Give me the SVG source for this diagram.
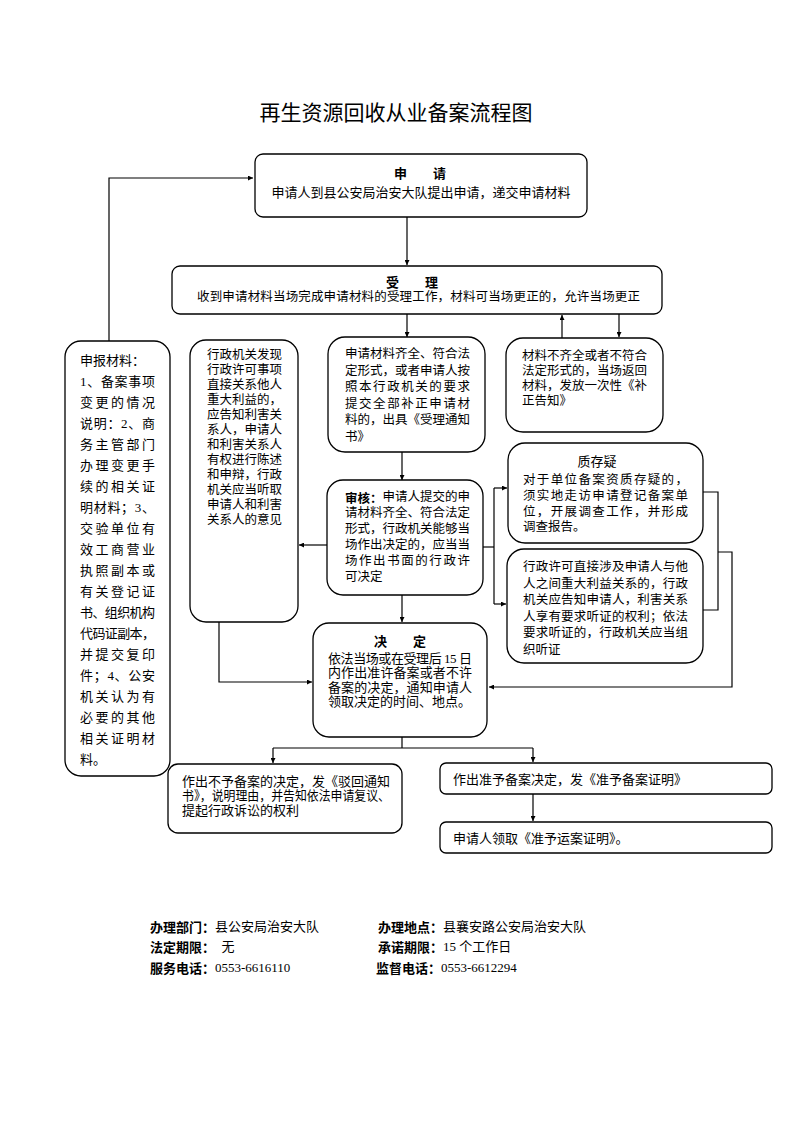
<svg xmlns="http://www.w3.org/2000/svg" width="793" height="1122" viewBox="0 0 793 1122">
<defs>
<marker id="ah" viewBox="0 0 10 10" refX="10" refY="5" markerWidth="6" markerHeight="5" markerUnits="userSpaceOnUse" orient="auto"><path d="M0,0 L10,5 L0,10 z" fill="#000"/></marker>
<style>
.box{fill:#fff;stroke:#000;stroke-width:1.3}
.ln{fill:none;stroke:#000;stroke-width:1.2}
.ar{fill:none;stroke:#000;stroke-width:1.2;marker-end:url(#ah)}
text{font-family:"Liberation Serif","Noto Sans CJK SC",serif;font-size:12.5px;fill:#000;dominant-baseline:central}
.t13{font-size:13px}
.b{font-family:"Noto Sans CJK SC","Liberation Sans",sans-serif;font-weight:bold}
.mid{text-anchor:middle}
.title{font-family:"Noto Sans CJK SC","Liberation Sans",sans-serif;font-size:21px}
</style>
</defs>
<rect width="793" height="1122" fill="#fff"/>
<text class="title mid" x="396" y="111">再生资源回收从业备案流程图</text>

<g id="connectors">
<polyline class="ar" points="109,341 109,178 253,178"/>
<line class="ar" x1="407" y1="217" x2="407" y2="265"/>
<line class="ar" x1="407" y1="314" x2="407" y2="337"/>
<line class="ar" x1="562" y1="338" x2="562" y2="315"/>
<line class="ar" x1="619" y1="314" x2="619" y2="337"/>
<line class="ar" x1="402" y1="452" x2="402" y2="480"/>
<line class="ar" x1="327" y1="545" x2="299" y2="545"/>
<line class="ar" x1="402" y1="595" x2="402" y2="622"/>
<polyline class="ar" points="219,622 219,682 312,682"/>
<line class="ln" x1="483" y1="547" x2="494" y2="547"/>
<line class="ln" x1="494" y1="488" x2="494" y2="604"/>
<line class="ar" x1="494" y1="488" x2="507" y2="488"/>
<line class="ar" x1="494" y1="604" x2="506" y2="604"/>
<polyline class="ln" points="703,492 718,492 718,610 703,610"/>
<polyline class="ar" points="718,552 732,552 732,687 489,687"/>
<line class="ln" x1="402" y1="737" x2="402" y2="748"/>
<line class="ln" x1="273" y1="748" x2="533" y2="748"/>
<line class="ar" x1="273" y1="748" x2="273" y2="763"/>
<line class="ar" x1="533" y1="748" x2="533" y2="762"/>
<line class="ar" x1="533" y1="793" x2="533" y2="821"/>
</g>

<g id="n-apply">
<rect class="box" x="255" y="154" width="332" height="63" rx="8"/>
<text class="b t13 mid" x="420" y="172" xml:space="preserve">申　　请</text>
<text class="t13 mid" x="421" y="192">申请人到县公安局治安大队提出申请，递交申请材料</text>
</g>

<g id="n-accept">
<rect class="box" x="172" y="266" width="490" height="48" rx="8"/>
<text class="b t13 mid" x="412" y="281.5" xml:space="preserve">受　　理</text>
<text x="197" y="297" textLength="443" lengthAdjust="spacing">收到申请材料当场完成申请材料的受理工作，材料可当场更正的，允许当场更正</text>
</g>

<g id="n-materials">
<rect class="box" x="65" y="341" width="105" height="435" rx="16"/>
<text class="t13" x="80" y="360">申报材料：</text>
<text class="t13" x="80" y="381" textLength="75" lengthAdjust="spacing">1、备案事项</text>
<text class="t13" x="80" y="402" textLength="75" lengthAdjust="spacing">变更的情况</text>
<text class="t13" x="80" y="423" textLength="75" lengthAdjust="spacing">说明：2、商</text>
<text class="t13" x="80" y="444" textLength="75" lengthAdjust="spacing">务主管部门</text>
<text class="t13" x="80" y="465" textLength="75" lengthAdjust="spacing">办理变更手</text>
<text class="t13" x="80" y="486" textLength="75" lengthAdjust="spacing">续的相关证</text>
<text class="t13" x="80" y="507" textLength="75" lengthAdjust="spacing">明材料；3、</text>
<text class="t13" x="80" y="528" textLength="75" lengthAdjust="spacing">交验单位有</text>
<text class="t13" x="80" y="549" textLength="75" lengthAdjust="spacing">效工商营业</text>
<text class="t13" x="80" y="570" textLength="75" lengthAdjust="spacing">执照副本或</text>
<text class="t13" x="80" y="591" textLength="75" lengthAdjust="spacing">有关登记证</text>
<text class="t13" x="80" y="612" textLength="75" lengthAdjust="spacing">书、组织机构</text>
<text class="t13" x="80" y="633" textLength="75" lengthAdjust="spacing">代码证副本，</text>
<text class="t13" x="80" y="654" textLength="75" lengthAdjust="spacing">并提交复印</text>
<text class="t13" x="80" y="675" textLength="75" lengthAdjust="spacing">件；4、公安</text>
<text class="t13" x="80" y="696" textLength="75" lengthAdjust="spacing">机关认为有</text>
<text class="t13" x="80" y="717" textLength="75" lengthAdjust="spacing">必要的其他</text>
<text class="t13" x="80" y="738" textLength="75" lengthAdjust="spacing">相关证明材</text>
<text class="t13" x="80" y="759">料。</text>
</g>

<g id="n-hearing-notice">
<rect class="box" x="190" y="340" width="108" height="282" rx="16"/>
<text x="207" y="355">行政机关发现</text>
<text x="207" y="370">行政许可事项</text>
<text x="207" y="385">直接关系他人</text>
<text x="207" y="400">重大利益的，</text>
<text x="207" y="415">应告知利害关</text>
<text x="207" y="430">系人，申请人</text>
<text x="207" y="445">和利害关系人</text>
<text x="207" y="460">有权进行陈述</text>
<text x="207" y="475">和申辩，行政</text>
<text x="207" y="490">机关应当听取</text>
<text x="207" y="505">申请人和利害</text>
<text x="207" y="520">关系人的意见</text>
</g>

<g id="n-complete">
<rect class="box" x="328" y="337" width="157" height="115" rx="17"/>
<text x="345" y="354">申请材料齐全、符合法</text>
<text x="345" y="370.5">定形式，或者申请人按</text>
<text x="345" y="387" textLength="125" lengthAdjust="spacing">照本行政机关的要求</text>
<text x="345" y="403.5" textLength="125" lengthAdjust="spacing">提交全部补正申请材</text>
<text x="345" y="420">料的，出具《受理通知</text>
<text x="345" y="436.5">书》</text>
</g>

<g id="n-incomplete">
<rect class="box" x="506" y="338" width="157" height="94" rx="17"/>
<text x="522" y="356">材料不齐全或者不符合</text>
<text x="522" y="371">法定形式的，当场返回</text>
<text x="522" y="386">材料，发放一次性《补</text>
<text x="522" y="401">正告知》</text>
</g>

<g id="n-review">
<rect class="box" x="327" y="480" width="156" height="115" rx="16"/>
<text x="345" y="497"><tspan class="b">审核：</tspan>申请人提交的申</text>
<text x="345" y="513">请材料齐全、符合法定</text>
<text x="345" y="529">形式，行政机关能够当</text>
<text x="345" y="545">场作出决定的，应当当</text>
<text x="345" y="561" textLength="125" lengthAdjust="spacing">场作出书面的行政许</text>
<text x="345" y="577">可决定</text>
</g>

<g id="n-doubt">
<rect class="box" x="508" y="443" width="195" height="100" rx="17"/>
<text class="t13 mid" x="597" y="461">质存疑</text>
<text x="523" y="480" textLength="165" lengthAdjust="spacing">对于单位备案资质存疑的，</text>
<text x="523" y="496" textLength="165" lengthAdjust="spacing">须实地走访申请登记备案单</text>
<text x="523" y="511.5" textLength="165" lengthAdjust="spacing">位，开展调查工作，并形成</text>
<text x="523" y="527">调查报告。</text>
</g>

<g id="n-hearing">
<rect class="box" x="507" y="549" width="196" height="114" rx="17"/>
<text x="523" y="567" textLength="165" lengthAdjust="spacing">行政许可直接涉及申请人与他</text>
<text x="523" y="583.5" textLength="165" lengthAdjust="spacing">人之间重大利益关系的，行政</text>
<text x="523" y="600" textLength="165" lengthAdjust="spacing">机关应告知申请人，利害关系</text>
<text x="523" y="616.5" textLength="165" lengthAdjust="spacing">人享有要求听证的权利；依法</text>
<text x="523" y="633" textLength="165" lengthAdjust="spacing">要求听证的，行政机关应当组</text>
<text x="523" y="649.5">织听证</text>
</g>

<g id="n-decide">
<rect class="box" x="313" y="623" width="174" height="114" rx="16"/>
<text class="b t13 mid" x="400" y="640.5" xml:space="preserve">决　　定</text>
<text class="t13" x="328" y="658" textLength="144" lengthAdjust="spacing">依法当场或在受理后 15 日</text>
<text class="t13" x="328" y="672.5" textLength="144" lengthAdjust="spacing">内作出准许备案或者不许</text>
<text class="t13" x="328" y="687" textLength="144" lengthAdjust="spacing">备案的决定，通知申请人</text>
<text class="t13" x="328" y="701.5">领取决定的时间、地点。</text>
</g>

<g id="n-reject">
<rect class="box" x="168" y="764" width="234" height="69" rx="10"/>
<text class="t13" x="182" y="781" textLength="208" lengthAdjust="spacing">作出不予备案的决定，发《驳回通知</text>
<text class="t13" x="182" y="795.5" textLength="208" lengthAdjust="spacingAndGlyphs">书》，说明理由，并告知依法申请复议、</text>
<text class="t13" x="182" y="810">提起行政诉讼的权利</text>
</g>

<g id="n-approve">
<rect class="box" x="440" y="763" width="332" height="31" rx="6"/>
<text class="t13" x="453" y="779">作出准予备案决定，发《准予备案证明》</text>
</g>

<g id="n-receive">
<rect class="box" x="440" y="822" width="332" height="31" rx="6"/>
<text class="t13" x="453" y="838">申请人领取《准予运案证明》。</text>
</g>

<g id="footer">
<text class="t13" x="150" y="926"><tspan class="b">办理部门：</tspan>县公安局治安大队</text>
<text class="t13" x="378" y="926"><tspan class="b">办理地点：</tspan>县襄安路公安局治安大队</text>
<text class="t13" x="150" y="946" xml:space="preserve"><tspan class="b">法定期限：</tspan>  无</text>
<text class="t13" x="378" y="946"><tspan class="b">承诺期限：</tspan>15 个工作日</text>
<text class="t13" x="150" y="967"><tspan class="b">服务电话：</tspan>0553-6616110</text>
<text class="t13" x="376" y="967"><tspan class="b">监督电话：</tspan>0553-6612294</text>
</g>
</svg>
